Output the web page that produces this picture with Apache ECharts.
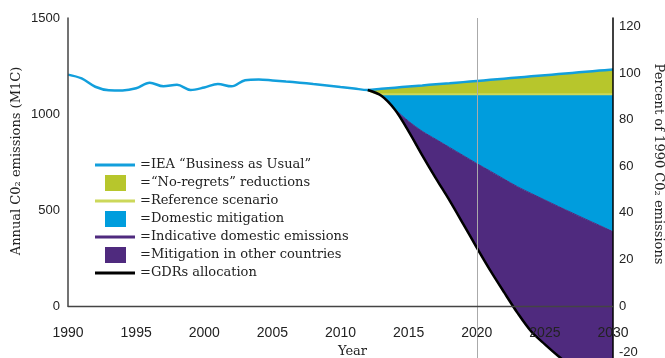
<!DOCTYPE html>
<html>
<head>
<meta charset="utf-8">
<script src="https://cdn.jsdelivr.net/npm/echarts@6/dist/echarts.min.js"></script>
<style>html,body{margin:0;padding:0;background:#fff}#c{width:665px;height:358px}</style>
</head>
<body>
<div id="c"></div>
<script>
// ---- data ----
const years = [1990,1991,1992,1993,1994,1995,1996,1997,1998,1999,2000,2001,2002,2003,2004,2005,2006,2007,2008,2009,2010,
               2011,2012,2013,2014,2015,2016,2017,2018,2019,2020,2021,2022,2023,2024,2025,2026,2027,2028,2029,2030];
const histYears = [1990,1991,1992,1993,1994,1995,1996,1997,1998,1999,2000,2001,2002,2003,2004,2005,2006,2007,2008,2009,2010,2011];
const histBAU   = [1205,1185,1142,1124,1123,1134,1163,1144,1152,1125,1138,1156,1144,1176,1180,1175,1169,1163,1156,1149,1141,1133];
const projYears = [2012,2013,2014,2015,2016,2017,2018,2019,2020,2021,2022,2023,2024,2025,2026,2027,2028,2029,2030];
const projBAU   = [1125,1131,1137,1143,1149,1155,1160,1166,1172,1178,1184,1190,1196,1202,1208,1214,1220,1226,1232];
const referenceScenario  = [1125,1103,1103,1103,1103,1103,1103,1103,1103,1103,1103,1103,1103,1103,1103,1103,1103,1103,1103];
const indicativeDomestic = [1125,1095,1025,962,910,868,826,784,742,702,661,621,586,552,518,485,452,420,387];
const gdrsAllocation     = [1125,1095,1022,910,785,665,550,428,304,184,72,-37,-133,-200,-262,-318,-370,-418,-462];
const leftTicks  = [0,500,1000,1500];
const rightTicks = [-20,0,20,40,60,80,100,120];
const percentBase = 1212; // emissions equal to 100% on the right axis
const markerYear = 2020;

const names = {
  bau: 'IEA \u201cBusiness as Usual\u201d',
  noreg: '\u201cNo-regrets\u201d reductions',
  ref: 'Reference scenario',
  dom: 'Domestic mitigation',
  ind: 'Indicative domestic emissions',
  oth: 'Mitigation in other countries',
  gdr: 'GDRs allocation'
};

// ---- styling ----
const C_BAU = '#129fdc', C_GREEN = '#b7c62c', C_REF = '#ccd85a', C_BLUE = '#009ddd', C_PURPLE = '#4f2a7e', C_BLACK = '#000';
const SERIF = '"DejaVu Serif", "Liberation Serif", serif';
const SANS = '"Liberation Sans", Arial, sans-serif';
const LINE_ICON = 'path://M0,0M0,16M0,6.5h40v3h-40z';
const RECT_ICON = 'path://M0,0M40,0M10,0h21v16h-21z';
const SMOOTH = 0.3;

// align a series (xs, vs) onto the category years
const onYears = (xs, vs) => years.map(y => { const i = xs.indexOf(y); return i < 0 ? null : vs[i]; });
const diff = (a, b) => a.map((v, i) => v - b[i]);

const chart = echarts.init(document.getElementById('c'), null, {renderer: 'canvas'});

const bandBase = {type: 'line', stack: 'band', stackStrategy: 'all', symbol: 'none', showSymbol: false, smooth: SMOOTH, lineStyle: {width: 0, opacity: 0}};

chart.setOption({
  animation: false,
  grid: [
    {left: 68, right: 52, top: 18, height: 384, outerBoundsMode: 'none', containLabel: false},
    {left: 68, right: 52, top: 18, height: 288, outerBoundsMode: 'none', containLabel: false}
  ],
  xAxis: [
    {gridIndex: 0, type: 'category', data: years.map(String), boundaryGap: false, show: false},
    {gridIndex: 1, type: 'category', data: years.map(String), boundaryGap: false, z: 10,
     axisLine: {show: true, onZero: false, lineStyle: {color: '#444', width: 1.3}},
     axisTick: {show: false}, splitLine: {show: false},
     axisLabel: {interval: 4, margin: 20, fontSize: 14, fontFamily: SANS, color: '#222'},
     name: 'Year', nameLocation: 'middle', nameGap: 39,
     nameTextStyle: {fontFamily: SERIF, fontSize: 13, color: '#222', padding: [0, 0, 0, 24]}}
  ],
  yAxis: [
    {gridIndex: 0, type: 'value', min: -500, max: 1500, show: false, position: 'left'},
    {gridIndex: 0, type: 'value', position: 'right', min: -500 / percentBase * 100, max: 1500 / percentBase * 100, z: 10,
     axisLine: {show: true, lineStyle: {color: '#000', width: 1.5}},
     axisTick: {show: false}, splitLine: {show: false},
     axisLabel: {show: true, customValues: rightTicks, margin: 6, fontSize: 13, fontFamily: SANS, color: '#222', formatter: v => String(v)}},
    {gridIndex: 1, type: 'value', position: 'left', min: 0, max: 1500, interval: 500, z: 10,
     axisLine: {show: true, lineStyle: {color: '#444', width: 1.5}},
     axisTick: {show: false}, splitLine: {show: false},
     axisLabel: {margin: 8, fontSize: 13, fontFamily: SANS, color: '#222', customValues: leftTicks, formatter: v => String(v)}}
  ],
  legend: {
    orient: 'vertical', left: 95, top: 157, padding: 0, itemWidth: 40, itemHeight: 16, itemGap: 2,
    formatter: '={name}', selectedMode: false,
    itemStyle: {borderWidth: 0},
    textStyle: {fontFamily: SERIF, fontSize: 13, color: '#222'},
    data: [
      {name: names.bau, icon: LINE_ICON},
      {name: names.noreg, icon: RECT_ICON},
      {name: names.ref, icon: LINE_ICON},
      {name: names.dom, icon: RECT_ICON},
      {name: names.ind, icon: LINE_ICON},
      {name: names.oth, icon: RECT_ICON},
      {name: names.gdr, icon: LINE_ICON}
    ]
  },
  graphic: [
    {type: 'text', x: 17, y: 161, rotation: Math.PI / 2,
     style: {text: 'Annual C0\u2082 emissions (M1C)', align: 'center', verticalAlign: 'middle', font: '13px ' + SERIF, fill: '#222'}},
    {type: 'text', x: 658, y: 164, rotation: -Math.PI / 2,
     style: {text: 'Percent of 1990 C0\u2082 emissions', align: 'center', verticalAlign: 'middle', font: '13px ' + SERIF, fill: '#222'}}
  ],
  series: [
    Object.assign({}, bandBase, {name: 'base', data: onYears(projYears, gdrsAllocation), silent: true}),
    Object.assign({}, bandBase, {name: names.oth, color: C_PURPLE, data: onYears(projYears, diff(indicativeDomestic, gdrsAllocation)), areaStyle: {color: C_PURPLE, opacity: 1}}),
    Object.assign({}, bandBase, {name: names.dom, color: C_BLUE, data: onYears(projYears, diff(referenceScenario, indicativeDomestic)), areaStyle: {color: C_BLUE, opacity: 1}}),
    Object.assign({}, bandBase, {name: names.noreg, color: C_GREEN, data: onYears(projYears, diff(projBAU, referenceScenario)), areaStyle: {color: C_GREEN, opacity: 1}}),
    {type: 'line', name: names.ref, color: C_REF, symbol: 'none', smooth: SMOOTH, data: onYears(projYears, referenceScenario), lineStyle: {color: C_REF, width: 2}},
    {type: 'line', name: names.ind, color: C_PURPLE, symbol: 'none', smooth: SMOOTH, data: onYears(projYears, indicativeDomestic), lineStyle: {color: C_PURPLE, width: 1}},
    {type: 'line', name: names.bau, color: C_BAU, symbol: 'none', smooth: 0.35,
     data: onYears(histYears.concat(projYears), histBAU.concat(projBAU)), lineStyle: {color: C_BAU, width: 2.5}},
    {type: 'line', name: names.gdr, color: C_BLACK, symbol: 'none', smooth: SMOOTH, data: onYears(projYears, gdrsAllocation), lineStyle: {color: C_BLACK, width: 2.5},
     markLine: {silent: true, symbol: ['none', 'none'], label: {show: false}, lineStyle: {color: '#aaa', width: 1, type: 'solid'}, data: [{xAxis: String(markerYear)}]}}
  ]
});
</script>
</body>
</html>
